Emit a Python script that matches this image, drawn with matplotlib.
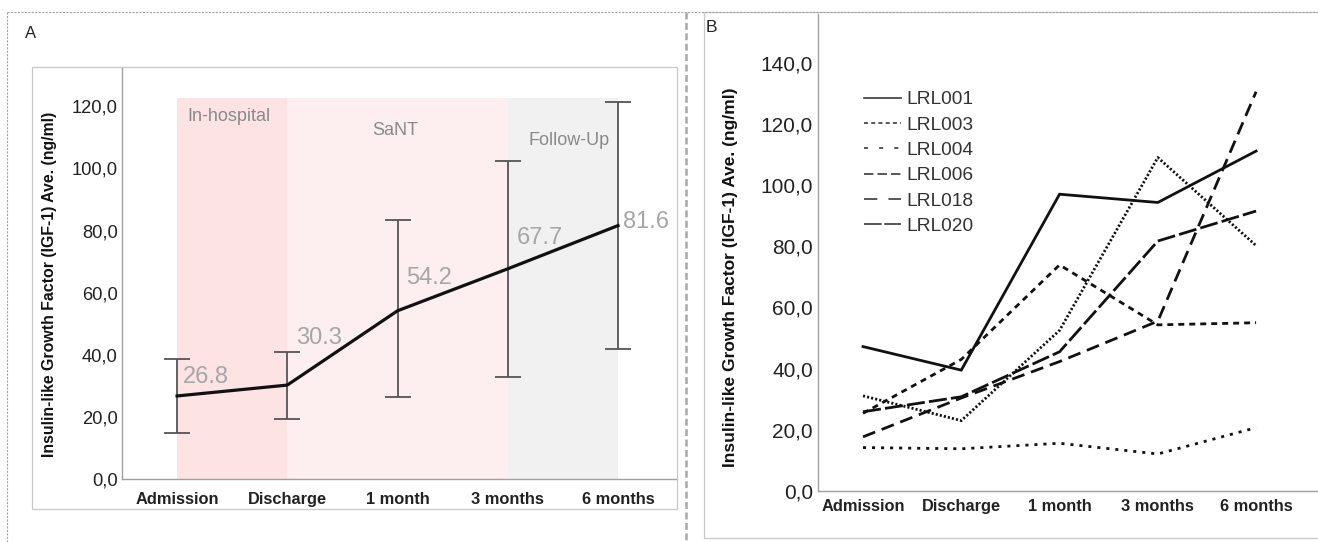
import matplotlib
matplotlib.use("Agg")
import matplotlib.pyplot as plt
from matplotlib.lines import Line2D
from matplotlib.patches import Rectangle

plt.rcParams['font.family'] = ['Liberation Sans', 'DejaVu Sans']
plt.rcParams['lines.scale_dashes'] = False

# ---------------- data ----------------
timepoints = ["Admission", "Discharge", "1 month", "3 months", "6 months"]

# Panel A: mean with error bars
mean_igf = [26.8, 30.3, 54.2, 67.7, 81.6]
err_low = [14.9, 19.4, 26.4, 33.0, 41.8]
err_high = [38.7, 40.9, 83.3, 102.3, 121.2]
mean_labels = ["26.8", "30.3", "54.2", "67.7", "81.6"]

phase_names = ["In-hospital", "SaNT", "Follow-Up"]
phase_start = [0, 1, 3]
phase_end = [1, 3, 4]
phase_top = 122.6

# Panel B: individual patients
patients = ["LRL001", "LRL003", "LRL004", "LRL006", "LRL018", "LRL020"]
lrl001 = [47.2, 39.5, 97.0, 94.3, 111.1]
lrl003 = [31.1, 23.0, 52.5, 109.0, 80.2]
lrl004 = [14.2, 13.8, 15.6, 12.1, 20.7]
lrl006 = [25.4, 43.0, 73.9, 54.3, 55.0]
lrl018 = [17.7, 30.4, 42.3, 55.5, 130.5]
lrl020 = [25.9, 30.8, 45.5, 81.7, 91.5]
patient_values = [lrl001, lrl003, lrl004, lrl006, lrl018, lrl020]

yticks_a = [0, 20, 40, 60, 80, 100, 120]
yticks_b = [0, 20, 40, 60, 80, 100, 120, 140]
ylabel = "Insulin-like Growth Factor (IGF-1) Ave. (ng/ml)"

# ---------------- layout helpers ----------------
W, H = 1318, 542
DPI = 100
fig = plt.figure(figsize=(W / DPI, H / DPI), dpi=DPI)


def px_axes(x0, y0, x1, y1):
    """pixel box (top-left origin) -> figure axes"""
    return fig.add_axes([x0 / W, (H - y1) / H, (x1 - x0) / W, (y1 - y0) / H])


def px_rect(x0, y0, x1, y1, **kw):
    fig.patches.append(Rectangle((x0 / W, (H - y1) / H), (x1 - x0) / W, (y1 - y0) / H,
                                 transform=fig.transFigure, fill=False, **kw))


def px_line(xs, ys, **kw):
    fig.add_artist(Line2D([x / W for x in xs], [(H - y) / H for y in ys],
                          transform=fig.transFigure, **kw))


def fmt_comma(v):
    return f"{v:.1f}".replace(".", ",")


# outer frame
px_line([7, W], [12, 12], color="#a0a0a0", lw=0.8, linestyle=(0, (1.5, 1)))
px_line([7, 7], [12, H], color="#a0a0a0", lw=0.8, linestyle=(0, (1.5, 1)))
px_line([686, 686], [12, H], color="#a8a8a8", lw=1.8, linestyle=(0, (5, 2.5)))

# boxes
px_rect(32, 67, 677, 509, edgecolor="#c8c8c8", lw=0.9)
px_rect(704, 12, W + 5, 538, edgecolor="#c8c8c8", lw=0.9)

fig.text(31 / W, 1 - 33 / H, "A", fontsize=12, ha="center", va="center", color="#222222")
fig.text(711 / W, 1 - 28 / H, "B", fontsize=12.5, ha="center", va="center", color="#222222")

x = list(range(len(timepoints)))

# ---------------- Panel A ----------------
axA = px_axes(121.7, 67, 677, 479.3)
axA.set_xlim(-0.502, 4.535)
axA.set_ylim(0, 132.6)
phase_colors = ["#fde3e4", "#fdeff0", "#f1f1f1"]
for s, e, c in zip(phase_start, phase_end, phase_colors):
    axA.axvspan(s, e, ymin=0, ymax=phase_top / 132.6, color=c, lw=0, zorder=0)

phase_label_x = [0.09, 1.77, 3.19]
phase_label_y = [116.6, 112.3, 109.0]
for name, lx, ly in zip(phase_names, phase_label_x, phase_label_y):
    axA.text(lx, ly, name, fontsize=13, color="#8a8a8a", ha="left", va="center")

yerr = [[m - lo for m, lo in zip(mean_igf, err_low)],
        [hi - m for m, hi in zip(mean_igf, err_high)]]
axA.errorbar(x, mean_igf, yerr=yerr, fmt="none", ecolor="#555555", elinewidth=1.3,
             capsize=9.7, capthick=1.3, zorder=2)
axA.plot(x, mean_igf, color="#111111", lw=2.3, zorder=3, solid_joinstyle="round")

label_dx = [6, 9, 9, 9, 5]
label_dy = [19, 47, 33, 31, 4]
for xi, v, t, dx, dy in zip(x, mean_igf, mean_labels, label_dx, label_dy):
    axA.annotate(t, (xi, v), xytext=(dx, dy), textcoords="offset pixels",
                 fontsize=17, color="#a6a6a6", ha="left", va="center", zorder=4)

axA.set_xticks(x)
axA.set_xticklabels(timepoints, fontsize=11.8, fontweight="bold", color="#222222")
axA.set_yticks(yticks_a)
axA.set_yticklabels([fmt_comma(v) for v in yticks_a], fontsize=13.2, color="#222222")
axA.tick_params(axis="both", length=0)
axA.tick_params(axis="x", pad=9.5)
axA.tick_params(axis="y", pad=3)
for sp in ["top", "right"]:
    axA.spines[sp].set_visible(False)
for sp in ["left", "bottom"]:
    axA.spines[sp].set_color("#a0a0a0")
    axA.spines[sp].set_linewidth(1.0)
axA.set_facecolor("none")
fig.text(50 / W, 1 - 284.5 / H, ylabel, rotation=90, fontsize=11.4, fontweight="bold",
         ha="center", va="center", color="#111111")

# ---------------- Panel B ----------------
axB = px_axes(818, 14, W, 491)
axB.set_xlim(-0.458, 4.63)
axB.set_ylim(0, 155.9)

plot_styles = [
    "-",
    (0, (1.5, 1.5)),
    (0, (2.2, 4.3)),
    (0, (4.3, 3.6)),
    (0, (9.4, 5.0)),
    (0, (13.0, 3.0)),
]
legend_styles = [
    "-",
    (0, (2.9, 2.3)),
    (0, (2.9, 8.0)),
    (0, (6.8, 2.9)),
    (0, (9.6, 8.0)),
    (0, (12.7, 1.9)),
]
for vals, ls in zip(patient_values, plot_styles):
    axB.plot(x, vals, color="#111111", lw=2.0, linestyle=ls,
             dash_capstyle="butt", solid_joinstyle="miter")

handles = [Line2D([], [], color="#3a3a3a", lw=1.2, linestyle=ls) for ls in legend_styles]
leg = axB.legend(handles, patients, loc="upper left",
                 bbox_to_anchor=((864 - 818) / 500, (491 - 91) / 477),
                 frameon=False, fontsize=13.8, handlelength=1.93, handletextpad=0.3,
                 labelspacing=0.41, borderaxespad=0, borderpad=0)
for t in leg.get_texts():
    t.set_color("#333333")

axB.set_xticks(x)
axB.set_xticklabels(timepoints, fontsize=11.8, fontweight="bold", color="#222222")
axB.set_yticks(yticks_b)
axB.set_yticklabels([fmt_comma(v) for v in yticks_b], fontsize=15, color="#222222")
axB.tick_params(axis="both", length=0)
axB.tick_params(axis="x", pad=5.5)
axB.tick_params(axis="y", pad=3.6)
for sp in ["top", "right"]:
    axB.spines[sp].set_visible(False)
for sp in ["left", "bottom"]:
    axB.spines[sp].set_color("#a0a0a0")
    axB.spines[sp].set_linewidth(1.0)
axB.set_facecolor("none")
fig.text(730 / W, 1 - 277 / H, ylabel, rotation=90, fontsize=12.5, fontweight="bold",
         ha="center", va="center", color="#111111")

fig.savefig("out.png", dpi=DPI)
